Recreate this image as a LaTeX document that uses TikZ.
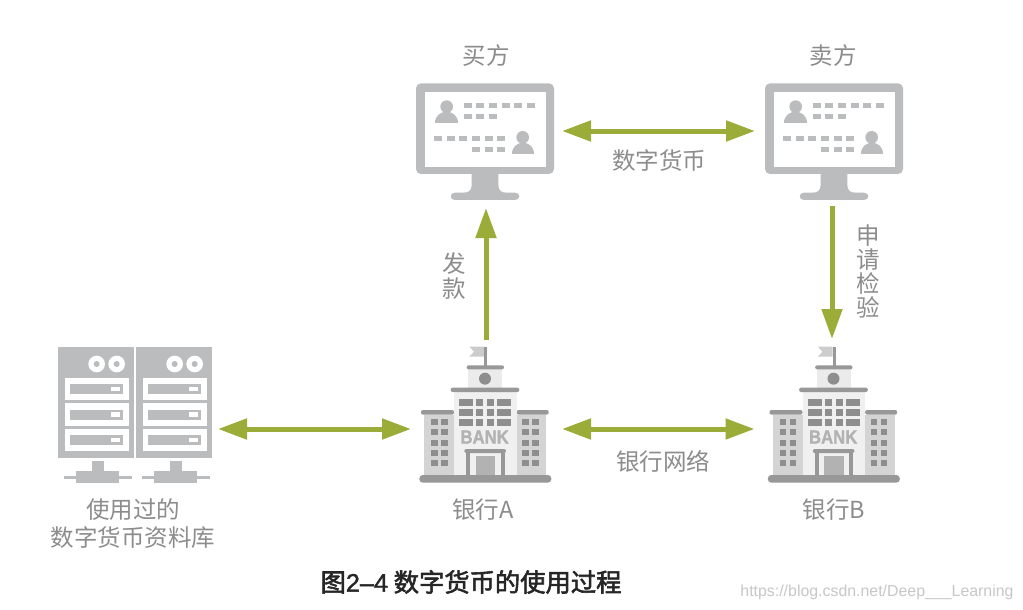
\documentclass[tikz,border=0pt]{standalone}
\usepackage{fontspec}
\setmainfont{Noto Sans CJK SC}
\newfontfamily\latinbold[Scale=1]{Liberation Sans}
\newfontfamily\bankfont[FakeBold=1.6]{Liberation Sans Bold}
\newfontfamily\titlefont[FakeBold=2.2]{Noto Sans CJK SC}
\newfontfamily\titlelatin[FakeBold=1.4]{Liberation Sans}
\usetikzlibrary{arrows.meta}
\definecolor{arrowgreen}{HTML}{9BAD38}
\definecolor{icongrey}{HTML}{BBBCBE}
\definecolor{labelgrey}{HTML}{8C8C8C}
\definecolor{bankdark}{HTML}{999899}
\definecolor{bankwin}{HTML}{8E8E8F}
\tikzset{
  iconbox/.style={inner sep=0pt,outer sep=0pt,draw=none},
  link/.style={draw=arrowgreen,line width=5pt},
  both/.style={link,{Triangle[length=29pt,width=20pt]}-{Triangle[length=29pt,width=20pt]}},
  single/.style={link,-{Triangle[length=30pt,width=20pt]}},
  lab/.style={text=labelgrey,font=\fontsize{23.5}{28}\selectfont,inner sep=0pt,align=center},
  zoomed/.style={x=0.33333pt,y=-0.33333pt},
}
\newcommand{\monitoricon}{%
  \fill[icongrey,rounded corners=5pt] (48,40) rectangle (462,312);
  \fill[white] (75,65) rectangle (437,290);
  \fill[icongrey] (215,312) -- (215,345) .. controls (215,362) and (205,368) .. (190,368) -- (165,368)
     .. controls (148,368) and (148,390) .. (165,390) -- (345,390) .. controls (362,390) and (362,368) .. (345,368)
     -- (320,368) .. controls (305,368) and (295,362) .. (295,345) -- (295,312) -- cycle;
  \fill[icongrey] (140,110) circle[radius=19];
  \fill[icongrey] (106,160) .. controls (106,115) and (174,115) .. (174,160) -- cycle;
  \fill[icongrey] (368,202) circle[radius=19];
  \fill[icongrey] (335,252) .. controls (335,207) and (403,207) .. (403,252) -- cycle;
  \foreach \d in {192,229,267,306,343,382} {\fill[icongrey] (\d,99) rectangle +(24,14);}
  \foreach \d in {192,229,267} {\fill[icongrey] (\d,132) rectangle +(24,14);}
  \foreach \d in {102,140,178,216,254,292} {\fill[icongrey] (\d,198) rectangle +(24,14);}
  \foreach \d in {216,254,292} {\fill[icongrey] (\d,231) rectangle +(24,14);}
}
\newcommand{\bankicon}{%
  \fill[black!20] (178,20) -- (222,20) -- (222,50) -- (178,50) -- (192,35) -- cycle;
  \fill[bankdark] (222,20) rectangle (231,78);
  \fill[black!8] (175,88) rectangle (277,143);
  \fill[bankdark,rounded corners=2pt] (170,76) rectangle (282,88);
  \fill[bankwin] (225,116) circle[radius=18];
  \fill[black!17] (42,224) rectangle (132,405);
  \fill[black!17] (320,224) rectangle (408,405);
  \fill[bankdark,rounded corners=2pt] (33,210) rectangle (132,224);
  \fill[bankdark,rounded corners=2pt] (320,210) rectangle (416,224);
  \fill[black!6] (132,156) rectangle (320,405);
  \fill[bankdark,rounded corners=2pt] (122,143) rectangle (328,156);
  \foreach \r in {177,207,237} {
    \fill[bankwin] (147,\r) rectangle +(42,20);
    \fill[bankwin] (198,\r) rectangle +(22,20);
    \fill[bankwin] (231,\r) rectangle +(21,20);
    \fill[bankwin] (262,\r) rectangle +(41,20);
  }
  \foreach \r in {237,267,300,330,360} {
    \fill[bankwin] (63,\r) rectangle +(20,19);
    \fill[bankwin] (93,\r) rectangle +(20,19);
    \fill[bankwin] (336,\r) rectangle +(20,19);
    \fill[bankwin] (366,\r) rectangle +(20,19);
  }
  \fill[black!30] (197,348) rectangle (256,405);
  \fill[bankdark] (168,339) rectangle (180,405);
  \fill[bankdark] (272,339) rectangle (284,405);
  \fill[bankdark,rounded corners=2pt] (163,327) rectangle (288,339);
  \fill[bankdark,rounded corners=3.5pt] (28,405) rectangle (424,428);
}
\newcommand{\servericon}[1]{%
  \begin{scope}[xshift=#1*0.33333pt]
  \fill[icongrey] (24,20) rectangle (252,353);
  \foreach \c in {140,200} {
    \fill[white] (\c,72) circle[radius=25];
    \fill[icongrey] (\c,72) circle[radius=9];
  }
  \foreach \r in {113,189.5,266} {
    \fill[white] (45,\r) rectangle +(192,67);
    \fill[icongrey] (60,\r+19) rectangle +(160,31);
    \fill[white] (182,\r+27) rectangle +(28,13);
  }
  \fill[icongrey] (126,362) rectangle (162,392);
  \fill[icongrey] (78,392) rectangle (207,428);
  \fill[icongrey] (42,407) rectangle (246,417);
  \end{scope}
}
\begin{document}
\begin{tikzpicture}[x=1pt,y=-1pt]
\useasboundingbox (0,0) rectangle (1023,610);
\fill[white] (0,0) rectangle (1023,610);
% icons
\begin{scope}[shift={(400,70)},zoomed]\monitoricon\end{scope}
\begin{scope}[shift={(749,70)},zoomed]\monitoricon\end{scope}
\begin{scope}[shift={(410,340)},zoomed]\bankicon
  \node[iconbox,text=black!30,font=\bankfont\fontsize{19}{19}\selectfont,xscale=0.88] at (224,291) {BANK};
\end{scope}
\begin{scope}[shift={(758.5,340)},zoomed]\bankicon
  \node[iconbox,text=black!30,font=\bankfont\fontsize{19}{19}\selectfont,xscale=0.88] at (224,291) {BANK};
\end{scope}
\begin{scope}[shift={(50,340)},zoomed]\servericon{0}\servericon{234}\end{scope}
% anchors of the icons
\node[iconbox,minimum width=138pt,minimum height=117pt] (buyer) at (485,141.5) {};
\node[iconbox,minimum width=138pt,minimum height=117pt] (seller) at (834,141.5) {};
\node[iconbox,minimum width=131pt,minimum height=136pt] (bankA) at (485.5,415) {};
\node[iconbox,minimum width=131pt,minimum height=136pt] (bankB) at (834,415) {};
\node[iconbox,minimum width=154pt,minimum height=136pt] (store) at (135,415) {};
% connectors
\draw[both,shorten <=8pt,shorten >=10pt] ([yshift=10.5pt]buyer.east) -- ([yshift=10.5pt]seller.west);
\draw[single,shorten <=7pt,shorten >=8pt] ([xshift=.5pt]bankA.north) -- ([xshift=1pt]buyer.south);
\draw[single,shorten <=6pt,shorten >=8pt] ([xshift=-2pt]seller.south) -- ([xshift=-2pt]bankB.north);
\draw[both,shorten <=6pt,shorten >=9pt] ([yshift=-14pt]store.east) -- ([yshift=-14pt]bankA.west);
\draw[both,shorten <=11pt,shorten >=14pt] ([yshift=-14pt]bankA.east) -- ([yshift=-14pt]bankB.west);
% labels
\node[lab] (t1) at (486,56) {买方};
\node[lab] (t2) at (833,56) {卖方};
\node[lab] (t3) at (659,161) {数字货币};
\node[lab] (t4) at (454,276) {发\\[-3pt]款};
\node[lab] (t5) at (868,271) {申\\[-4pt]请\\[-4pt]检\\[-4pt]验};
\node[lab] (t6) at (663,461) {银行网络};
\node[lab] (t7) at (133,524) {使用过的\\数字货币资料库};
\node[lab] (t8) at (483,510) {银行A};
\node[lab] (t9) at (834,510) {银行B};
\node[inner sep=0pt,text=black!85,font=\titlefont\fontsize{25.3}{29}\selectfont] (title) at (471,582) {图{\titlelatin 2–4} 数字货币的使用过程};
\node[inner sep=0pt,text=black!22,font=\latinbold\fontsize{15.9}{18}\selectfont] (mark) at (877,592) {https://blog.csdn.net/Deep\_\_\_Learning};
\end{tikzpicture}
\end{document}
